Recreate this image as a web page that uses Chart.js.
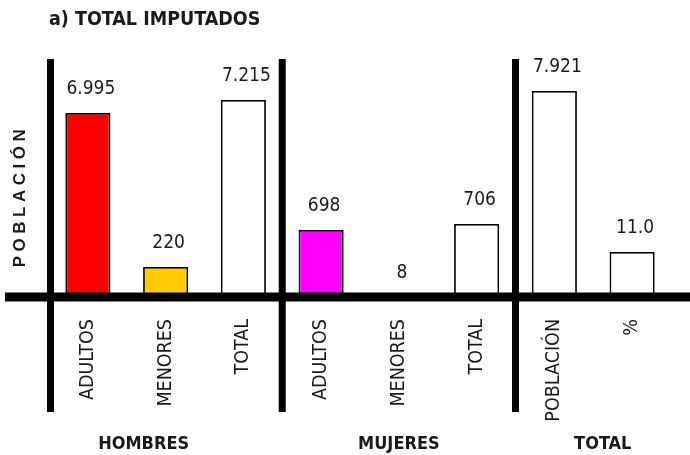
<!DOCTYPE html>
<html lang="es">
<head>
<meta charset="UTF-8">
<title>Total imputados</title>
<script src="https://cdn.jsdelivr.net/npm/chart.js"></script>
<style>
  html, body { margin: 0; padding: 0; background: #fff; }
</style>
</head>
<body>
<canvas id="chart" width="690" height="455"></canvas>
<script>
const categories = ['ADULTOS', 'MENORES', 'TOTAL', 'ADULTOS', 'MENORES', 'TOTAL', 'POBLACIÓN', '%'];
const groups = ['HOMBRES', 'MUJERES', 'TOTAL'];
const groupSizes = [3, 3, 2];
const valueLabels = ['6.995', '220', '7.215', '698', '8', '706', '7.921', '11.0'];
// bar heights as drawn in the figure (it is not to scale), % of plot height
const barHeights = [77.3, 12.6, 82.8, 28.2, 0, 30.7, 86.6, 18.9];
const barColors = ['#ff0000', '#ffcc00', '#ffffff', '#ff00ff', '#ffffff', '#ffffff', '#ffffff', '#ffffff'];

const NARROW = '"DejaVu Sans Condensed", "Arial Narrow", sans-serif';
const TEXT = '#1a1a1a';

const framePlugin = {
  id: 'frame',
  afterDatasetsDraw(chart) {
    const ctx = chart.ctx;
    const x = chart.scales.x, y = chart.scales.y;
    const area = chart.chartArea;
    const y0 = y.getPixelForValue(0);
    ctx.save();
    ctx.fillStyle = '#000';
    // thick baseline
    ctx.fillRect(5, y0 - 4.5, chart.width - 5, 9);
    // vertical separators: left edge + between groups
    const seps = [area.left + 1.5];
    let idx = 0;
    for (let g = 0; g < groupSizes.length - 1; g++) {
      idx += groupSizes[g];
      seps.push((x.getPixelForValue(idx - 1) + x.getPixelForValue(idx)) / 2);
    }
    seps.forEach(sx => ctx.fillRect(sx - 3.5, area.top, 7, y0 + 115 - area.top));

    // value labels above bars
    ctx.fillStyle = TEXT;
    ctx.font = '19px ' + NARROW;
    ctx.textAlign = 'center';
    ctx.textBaseline = 'middle';
    chart.getDatasetMeta(0).data.forEach((bar, i) => {
      ctx.fillText(valueLabels[i], bar.x + 3, bar.y - 24);
    });

    // group names, centred between the separators
    ctx.font = 'bold 18px ' + NARROW;
    const bounds = [5].concat(seps.slice(1), [chart.width]);
    groups.forEach((name, g) => {
      ctx.fillText(name, (bounds[g] + bounds[g + 1]) / 2, 444.5);
    });

    // y axis label, spaced letters
    ctx.translate(20, (area.top + y0) / 2 + 18);
    ctx.rotate(-Math.PI / 2);
    ctx.font = 'bold 17px "Liberation Sans", Arial, sans-serif';
    ctx.letterSpacing = '4.5px';
    ctx.fillText('POBLACIÓN', 0, 0);
    ctx.restore();
  }
};

new Chart(document.getElementById('chart'), {
  type: 'bar',
  data: {
    labels: categories,
    datasets: [{
      data: barHeights,
      backgroundColor: barColors,
      borderColor: '#000',
      borderWidth: 1.8,
      borderSkipped: false,
      barPercentage: 0.58,
      categoryPercentage: 1
    }]
  },
  options: {
    responsive: false,
    animation: false,
    layout: { padding: { left: 49, right: 19, top: 0, bottom: 0 } },
    plugins: {
      legend: { display: false },
      tooltip: { enabled: false },
      title: {
        display: true,
        text: 'a) TOTAL IMPUTADOS',
        align: 'start',
        color: TEXT,
        font: { family: NARROW, size: 19.5, weight: 'bold', lineHeight: 1.2 },
        padding: { top: 8, bottom: 27.6 }
      }
    },
    scales: {
      x: {
        grid: { display: false, drawTicks: false },
        border: { display: false },
        ticks: {
          color: TEXT,
          font: { family: NARROW, size: 19.5 },
          minRotation: 90,
          maxRotation: 90,
          autoSkip: false,
          padding: 22
        },
        afterFit(scale) { scale.height = 158; }
      },
      y: {
        display: false,
        min: 0,
        max: 100
      }
    }
  },
  plugins: [framePlugin]
});
</script>
</body>
</html>
